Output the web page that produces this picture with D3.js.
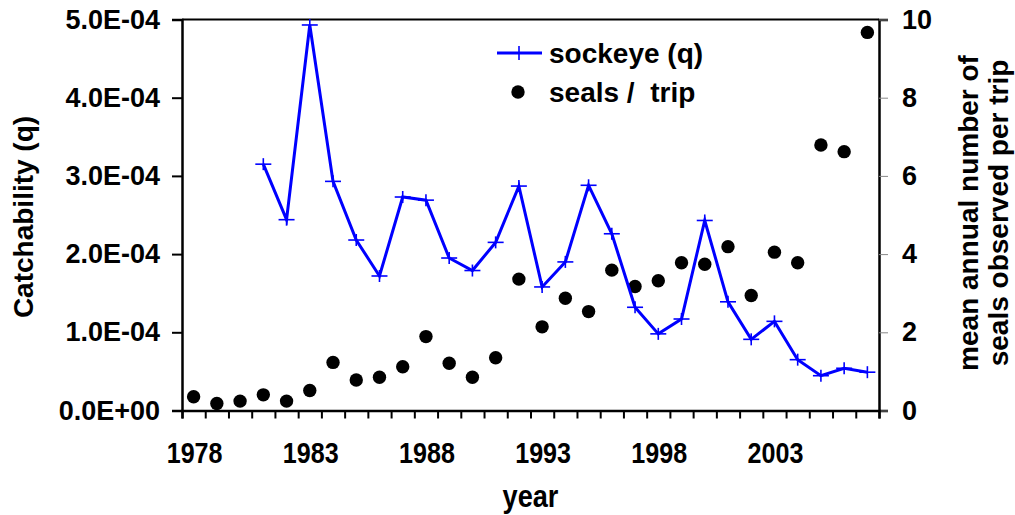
<!DOCTYPE html>
<html>
<head>
<meta charset="utf-8">
<script src="https://cdn.jsdelivr.net/npm/d3@7"></script>
<style>
  html, body { margin: 0; padding: 0; background: #fff; }
  svg text { font-family: "Liberation Sans", Arial, sans-serif; font-weight: bold; fill: #000; }
</style>
</head>
<body>
<svg id="chart" width="1015" height="515"></svg>
<script>
// Years on the category axis
const years = d3.range(1978, 2008);
// Catchability of sockeye (q), 1981-2007
const qYears = d3.range(1981, 2008);
const qValues = [3.15e-4, 2.44e-4, 4.93e-4, 2.93e-4, 2.18e-4, 1.72e-4, 2.73e-4, 2.69e-4, 1.95e-4,
  1.79e-4, 2.15e-4, 2.87e-4, 1.58e-4, 1.90e-4, 2.88e-4, 2.26e-4, 1.32e-4, 0.98e-4, 1.17e-4,
  2.43e-4, 1.39e-4, 0.91e-4, 1.14e-4, 0.65e-4, 0.445e-4, 0.54e-4, 0.49e-4];
// Mean annual number of seals observed per trip, 1978-2007
const sealValues = [0.35, 0.18, 0.24, 0.40, 0.24, 0.51, 1.23, 0.78, 0.85, 1.12, 1.89, 1.21, 0.85,
  1.35, 3.36, 2.14, 2.87, 2.53, 3.59, 3.17, 3.32, 3.78, 3.74, 4.19, 2.94, 4.05, 3.78, 6.79, 6.62, 9.67];
// Axis tick labels
const xTickLabels = ["1978", "1983", "1988", "1993", "1998", "2003"];
const leftTicks = [0, 1e-4, 2e-4, 3e-4, 4e-4, 5e-4];
const rightTicks = [0, 2, 4, 6, 8, 10];

const svg = d3.select("#chart");
const L = 182, R = 879, T = 19.5, B = 410.5;

const x = d3.scaleBand().domain(years).range([L, R]);
const yL = d3.scaleLinear().domain([0, 5e-4]).range([B, T]);
const yR = d3.scaleLinear().domain([0, 10]).range([B, T]);
const cx = yr => x(yr) + x.bandwidth() / 2;

// Frame (top border)
svg.append("line").attr("x1", L).attr("x2", R).attr("y1", T).attr("y2", T)
  .attr("stroke", "#000").attr("stroke-width", 2);

// Left axis
const gL = svg.append("g").attr("transform", `translate(${L},0)`)
  .call(d3.axisLeft(yL).tickValues(leftTicks).tickSize(10).tickPadding(12)
    .tickFormat(v => v.toExponential(1).replace(/e([+-])(\d)$/, "E$10$2").toUpperCase()));
gL.select(".domain").attr("stroke-width", 2.5);
gL.selectAll(".tick line").attr("stroke-width", 2);
gL.selectAll("text").attr("font-size", 27);

// Right axis
const gR = svg.append("g").attr("transform", `translate(${R},0)`)
  .call(d3.axisRight(yR).tickValues(rightTicks).tickSize(9).tickPadding(14));
gR.select(".domain").attr("stroke-width", 2.5);
gR.selectAll(".tick line").attr("stroke", "#888").attr("stroke-width", 1);
gR.selectAll("text").attr("font-size", 27);

// Bottom axis: ticks on category boundaries, labels every five years
const xb = d3.scaleLinear().domain([0, years.length]).range([L, R]);
const gB = svg.append("g").attr("transform", `translate(0,${B})`)
  .call(d3.axisBottom(xb).tickValues(d3.range(0, years.length + 1))
    .tickSize(8).tickFormat(""));
gB.select(".domain").attr("stroke-width", 2.5);
gB.selectAll(".tick line").attr("stroke-width", 2);
svg.append("g").selectAll("text").data(xTickLabels).join("text")
  .attr("transform", d => `translate(${cx(+d) + 1},463) scale(0.93,1.12)`)
  .attr("text-anchor", "middle").attr("font-size", 27)
  .text(d => d);

// Axis titles
svg.append("text").attr("transform", `translate(33,${(T + B) / 2 + 2}) rotate(-90)`)
  .attr("text-anchor", "middle").attr("font-size", 28).text("Catchability (q)");
svg.append("text").attr("transform", `translate(978,213) rotate(-90)`)
  .attr("text-anchor", "middle").attr("font-size", 28).text("mean annual number of");
svg.append("text").attr("transform", `translate(1008,213) rotate(-90)`)
  .attr("text-anchor", "middle").attr("font-size", 28).text("seals observed per trip");
svg.append("text").attr("transform", `translate(${(L + R) / 2},507) scale(0.97,1.1)`)
  .attr("text-anchor", "middle").attr("font-size", 28).text("year");

// Seal counts as filled dots
svg.append("g").selectAll("circle").data(sealValues).join("circle")
  .attr("cx", (d, i) => cx(years[i])).attr("cy", d => yR(d)).attr("r", 6.7).attr("fill", "#000");

// Sockeye catchability line with plus markers
const line = d3.line().x((d, i) => cx(qYears[i])).y(d => yL(d));
svg.append("path").datum(qValues).attr("d", line)
  .attr("fill", "none").attr("stroke", "#0000ff").attr("stroke-width", 3);
const gP = svg.append("g").attr("stroke", "#0000ff").attr("stroke-width", 1.6);
qValues.forEach((v, i) => {
  const px = cx(qYears[i]), py = yL(v);
  gP.append("line").attr("x1", px - 8).attr("x2", px + 8).attr("y1", py).attr("y2", py);
  gP.append("line").attr("x1", px).attr("x2", px).attr("y1", py - 6).attr("y2", py + 6);
});

// Legend
const lg = svg.append("g");
lg.append("line").attr("x1", 497).attr("x2", 542).attr("y1", 53).attr("y2", 53)
  .attr("stroke", "#0000ff").attr("stroke-width", 3);
lg.append("line").attr("x1", 511).attr("x2", 527).attr("y1", 53).attr("y2", 53)
  .attr("stroke", "#0000ff").attr("stroke-width", 1.6);
lg.append("line").attr("x1", 519).attr("x2", 519).attr("y1", 46).attr("y2", 60)
  .attr("stroke", "#0000ff").attr("stroke-width", 1.6);
lg.append("text").attr("x", 549).attr("y", 63).attr("font-size", 28).text("sockeye (q)");
lg.append("circle").attr("cx", 518).attr("cy", 92).attr("r", 6.7).attr("fill", "#000");
lg.append("text").attr("x", 549).attr("y", 102).attr("font-size", 28)
  .style("white-space", "pre").text("seals /  trip");
</script>
</body>
</html>
